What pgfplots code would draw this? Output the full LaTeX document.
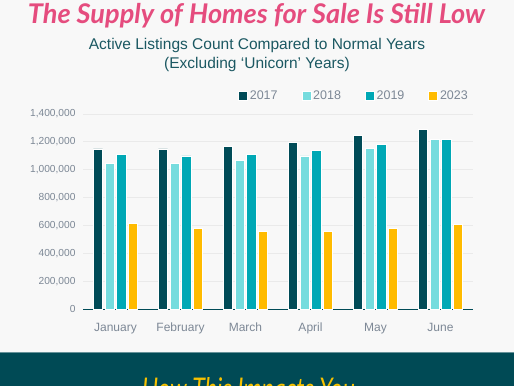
\documentclass[border=0pt]{standalone}
\usepackage{pgfplots}
\pgfplotsset{compat=1.18}
\usepackage{pgfplotstable}
\usepackage{fontspec}
\setmainfont{Liberation Sans}
\newfontfamily\titlefont{Lato}
\definecolor{bgc}{HTML}{F8F8F8}
\definecolor{band}{HTML}{004A55}
\definecolor{cA}{HTML}{004B57}
\definecolor{cB}{HTML}{76DCDE}
\definecolor{cC}{HTML}{00A8B5}
\definecolor{cD}{HTML}{FFBB00}
\definecolor{pinkt}{HTML}{E54C7E}
\definecolor{subt}{HTML}{1B5862}
\definecolor{tickc}{HTML}{7D8896}
\definecolor{gridc}{HTML}{EAEAEA}
\definecolor{yel}{HTML}{F7C100}
\pgfplotstableread{
x y17 y18 y19 y23
0 1150000 1045000 1110000 615000
1 1150000 1045000 1100000 580000
2 1170000 1068000 1113000 561000
3 1199000 1099000 1137000 561000
4 1249000 1156000 1180000 581000
5 1292000 1219000 1219000 611000
}\datatable
\begin{document}
\begin{tikzpicture}
\path[use as bounding box] (0bp,0bp) rectangle (514bp,386bp);
\clip (0bp,0bp) rectangle (514bp,386bp);
\fill[bgc] (0bp,0bp) rectangle (514bp,386bp);
\fill[band] (0bp,0bp) rectangle (514bp,34bp);
\draw[color=band!60!white, line width=0.6bp] (0bp,34bp) -- (514bp,34bp);
% title
\node[inner sep=0, text=pinkt] at (256.5bp,370bp) {\resizebox{457bp}{!}{\titlefont\bfseries\itshape The Supply of Homes for Sale Is Still Low}};
\node[inner sep=0, text=subt, align=center, font=\fontsize{15.5bp}{19bp}\selectfont] at (257bp,331.5bp) {Active Listings Count Compared to Normal Years\\(Excluding ‘Unicorn’ Years)};
% band text
\node[inner sep=0, anchor=north, text=yel] at (248.5bp,9bp) {\resizebox{213bp}{22bp}{\titlefont\itshape How This Impacts You}};
\begin{axis}[
  at={(83bp,76.7bp)}, anchor=south west,
  scale only axis, width=390bp, height=195.3bp,
  xmin=-0.5, xmax=5.5, ymin=0, ymax=1400000,
  ybar=2.4bp, bar width=9.3bp,
  axis lines=left,
  y axis line style={draw=none},
  x axis line style={draw=cA, line width=1bp, -},
  major tick length=0pt,
  xtick=data,
  xticklabels={January,February,March,April,May,June},
  ytick={0,200000,400000,600000,800000,1000000,1200000,1400000},
  scaled y ticks=false,
  /pgf/number format/.cd, fixed, set thousands separator={,}, assume math mode=true,
  /pgfplots/.cd,
  ymajorgrids, grid style={gridc, line width=0.8bp},
  yticklabel style={text=tickc, font=\fontsize{10.2bp}{12bp}\selectfont, xshift=-4bp},
  xticklabel style={text=tickc, font=\fontsize{12bp}{14bp}\selectfont, yshift=-10bp},
  legend columns=4,
  legend style={at={(1,1.092)}, anchor=east, draw=none, fill=none,
    font=\fontsize{12.5bp}{14bp}\selectfont, text=tickc,
    /tikz/every even column/.append style={column sep=22bp}},
  legend image code/.code={\fill[#1] (0bp,-4.5bp) rectangle (9bp,4.5bp);},
  every axis plot/.append style={draw=white, line width=0.6bp},
]
\addplot[fill=cA] table[x=x,y=y17]{\datatable};
\addplot[fill=cB] table[x=x,y=y18]{\datatable};
\addplot[fill=cC] table[x=x,y=y19]{\datatable};
\addplot[fill=cD] table[x=x,y=y23]{\datatable};
\legend{2017,2018,2019,2023}
\end{axis}
\end{tikzpicture}
\end{document}
